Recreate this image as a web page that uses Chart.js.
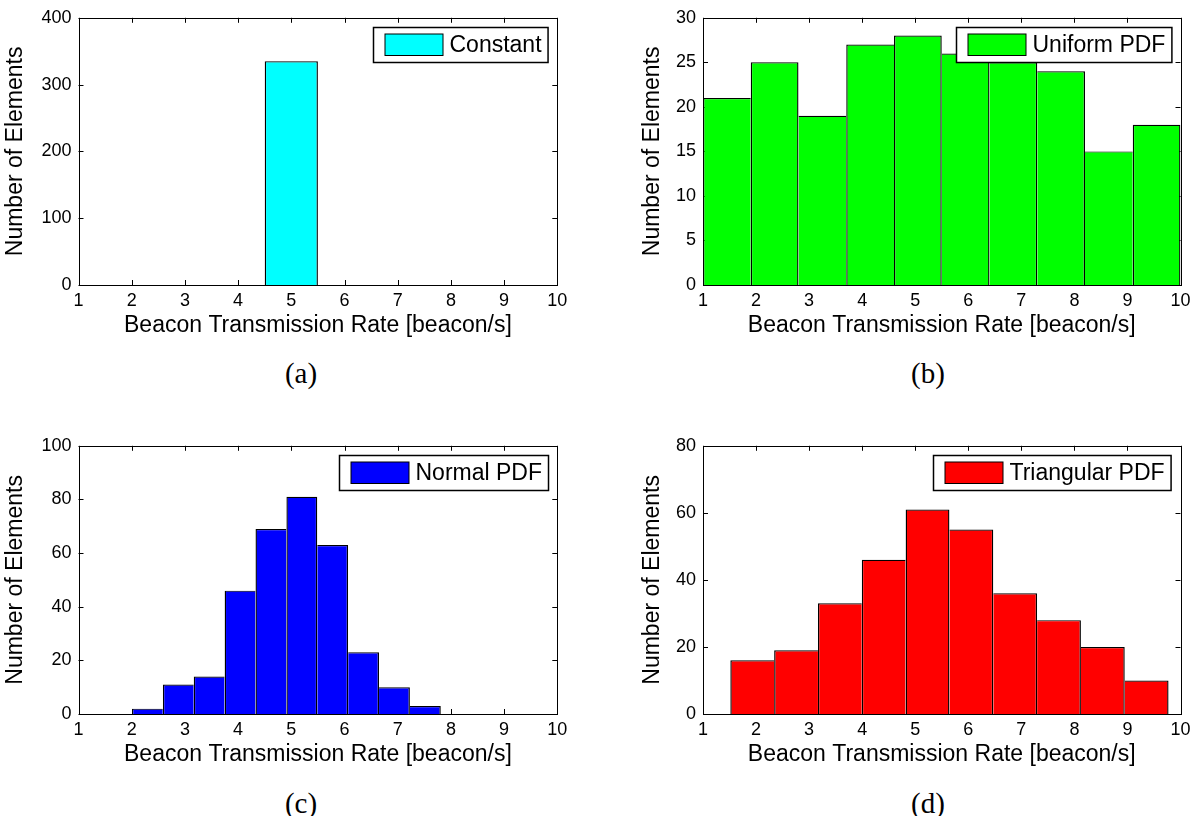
<!DOCTYPE html>
<html>
<head>
<meta charset="utf-8">
<script src="https://cdn.jsdelivr.net/npm/chart.js@4.4.1/dist/chart.umd.min.js"></script>
<style>
html,body{margin:0;padding:0;background:#fff;}
#wrap{position:relative;width:1201px;height:816px;overflow:hidden;background:#fff;}
canvas{position:absolute;}
.cap{position:absolute;width:100px;text-align:center;font-family:"Liberation Serif",serif;font-size:29px;line-height:30px;color:#000;}
</style>
</head>
<body>
<div id="wrap">
  <canvas id="ca" width="600" height="339" style="left:0;top:0"></canvas>
  <canvas id="cb" width="564" height="339" style="left:637px;top:0"></canvas>
  <canvas id="cc" width="600" height="340" style="left:0;top:428px"></canvas>
  <canvas id="cd" width="564" height="340" style="left:637px;top:428px"></canvas>
  <div class="cap" style="left:251px;top:358px">(a)</div>
  <div class="cap" style="left:878px;top:358px">(b)</div>
  <div class="cap" style="left:251px;top:788px">(c)</div>
  <div class="cap" style="left:878px;top:788px">(d)</div>
</div>
<script>
// ---- data (bin centres and counts) ----
const xTickMin = 1, xTickMax = 10, xTickStep = 1;

const constantCenters = [0, 1, 2, 3, 4, 5, 6, 7, 8, 9];
const constantCounts  = [0, 0, 0, 0, 0, 335, 0, 0, 0, 0];

const uniformCenters = [1.45, 2.35, 3.25, 4.15, 5.05, 5.95, 6.85, 7.75, 8.65, 9.55];
const uniformCounts  = [21, 25, 19, 27, 28, 26, 25, 24, 15, 18];

const normalCenters = [2.295, 2.876, 3.456, 4.037, 4.617, 5.198, 5.778, 6.359, 6.939, 7.520];
const normalCounts  = [2, 11, 14, 46, 69, 81, 63, 23, 10, 3];

const triangularCenters = [1.928, 2.754, 3.580, 4.406, 5.232, 6.058, 6.884, 7.710, 8.536, 9.362];
const triangularCounts  = [16, 19, 33, 46, 61, 55, 36, 28, 20, 10];

const yMaxA = 400, yStepA = 100;
const yMaxB = 30,  yStepB = 5;
const yMaxC = 100, yStepC = 20;
const yMaxD = 80,  yStepD = 20;

const xTitle = 'Beacon Transmission Rate [beacon/s]';
const yTitle = 'Number of Elements';

// ---- helpers ----
const FAM = '"Liberation Sans", Arial, Helvetica, sans-serif';

function edgeWidths(ctx) {
  const i = ctx.dataIndex;
  if (i === undefined) return 1;
  const d = ctx.dataset.data;
  const cur = d[i].y;
  const prev = i > 0 ? d[i - 1].y : -1;
  const next = i < d.length - 1 ? d[i + 1].y : -1;
  return {top: 1.2, bottom: 0, left: prev < cur ? 1.4 : 0, right: next <= cur ? 1.4 : 0};
}

const frameTicks = {
  id: 'frameTicks',
  beforeDatasetsDraw(chart) {
    const {ctx, chartArea: a, scales: {x, y}} = chart;
    const L = 5;
    ctx.save();
    ctx.strokeStyle = '#000';
    ctx.lineWidth = 1;
    ctx.beginPath();
    x.ticks.forEach(t => {
      const px = Math.round(x.getPixelForValue(t.value)) + 0.5;
      ctx.moveTo(px, a.bottom); ctx.lineTo(px, a.bottom - L);
      ctx.moveTo(px, a.top); ctx.lineTo(px, a.top + L);
    });
    y.ticks.forEach(t => {
      const py = Math.round(y.getPixelForValue(t.value)) + 0.5;
      ctx.moveTo(a.left, py); ctx.lineTo(a.left + L, py);
      ctx.moveTo(a.right, py); ctx.lineTo(a.right - L, py);
    });
    ctx.stroke();
    ctx.restore();
  },
  afterDatasetsDraw(chart) {
    const {ctx, chartArea: a} = chart;
    ctx.save();
    ctx.strokeStyle = '#000';
    ctx.lineWidth = 1;
    ctx.strokeRect(Math.round(a.left) + 0.5, Math.round(a.top) + 0.5,
                   Math.round(a.right) - Math.round(a.left), Math.round(a.bottom) - Math.round(a.top));
    // boxed legend inside the plot area (top right)
    const ds = chart.data.datasets[0];
    ctx.font = '23px ' + FAM;
    const tw = ctx.measureText(ds.label).width;
    const h = 35, pl = 11.5, sw = 58, gap = 6.5, pr = 6.5;
    const w = pl + sw + gap + tw + pr;
    const bx = Math.round(a.right - 9.5 - w) + 0.5, by = Math.round(a.top + 9) + 0.5;
    ctx.fillStyle = '#fff';
    ctx.fillRect(bx, by, w, h);
    ctx.lineWidth = 1.5;
    ctx.strokeRect(bx, by, w, h);
    ctx.fillStyle = ds.backgroundColor;
    ctx.fillRect(bx + pl, by + 6.5, sw, 21.5);
    ctx.lineWidth = 1;
    ctx.strokeRect(bx + pl, by + 6.5, sw, 21.5);
    ctx.fillStyle = '#000';
    ctx.textBaseline = 'middle';
    ctx.textAlign = 'left';
    ctx.fillText(ds.label, bx + pl + sw + gap, by + h / 2 + 1);
    ctx.restore();
  }
};

function makeChart(id, label, color, centers, counts, yMax, yStep, yWidth, pad) {
  const points = centers.map((c, i) => ({x: c, y: counts[i]}));
  return new Chart(document.getElementById(id), {
    type: 'bar',
    data: {
      datasets: [{
        label: label,
        data: points,
        backgroundColor: color,
        borderColor: '#000',
        borderWidth: edgeWidths,
        borderSkipped: false,
        inflateAmount: 0,
        barPercentage: 1,
        categoryPercentage: 1
      }]
    },
    options: {
      responsive: false,
      maintainAspectRatio: false,
      animation: false,
      layout: {padding: pad},
      plugins: {legend: {display: false}, tooltip: {enabled: false}, title: {display: false}},
      scales: {
        x: {
          type: 'linear',
          offset: false,
          min: xTickMin,
          max: xTickMax,
          ticks: {stepSize: xTickStep, padding: 5, color: '#000', maxRotation: 0, autoSkip: false,
                  font: {family: FAM, size: 18}},
          grid: {display: false, drawTicks: false},
          border: {display: false},
          title: {display: true, text: xTitle, color: '#000', padding: {top: 0, bottom: 0},
                  font: {family: FAM, size: 23}},
          afterFit(s) { s.height = 54; }
        },
        y: {
          type: 'linear',
          min: 0,
          max: yMax,
          ticks: {stepSize: yStep, padding: 7, color: '#000', font: {family: FAM, size: 18}},
          grid: {display: false, drawTicks: false},
          border: {display: false},
          title: {display: true, text: yTitle, color: '#000', padding: {top: 2, bottom: 0},
                  font: {family: FAM, size: 23}},
          afterFit(s) { s.width = yWidth; }
        }
      }
    },
    plugins: [frameTicks]
  });
}

makeChart('ca', 'Constant', '#00ffff', constantCenters, constantCounts, yMaxA, yStepA, 78.5,
          {left: 0, right: 42.7, top: 13.7, bottom: 0});
makeChart('cb', 'Uniform PDF', '#00ff00', uniformCenters, uniformCounts, yMaxB, yStepB, 66,
          {left: 0, right: 20.5, top: 13.3, bottom: 0});
makeChart('cc', 'Normal PDF', '#0000ff', normalCenters, normalCounts, yMaxC, yStepC, 78.5,
          {left: 0, right: 42.7, top: 14, bottom: 0});
makeChart('cd', 'Triangular PDF', '#ff0000', triangularCenters, triangularCounts, yMaxD, yStepD, 66,
          {left: 0, right: 20.5, top: 14, bottom: 0});
</script>
</body>
</html>
